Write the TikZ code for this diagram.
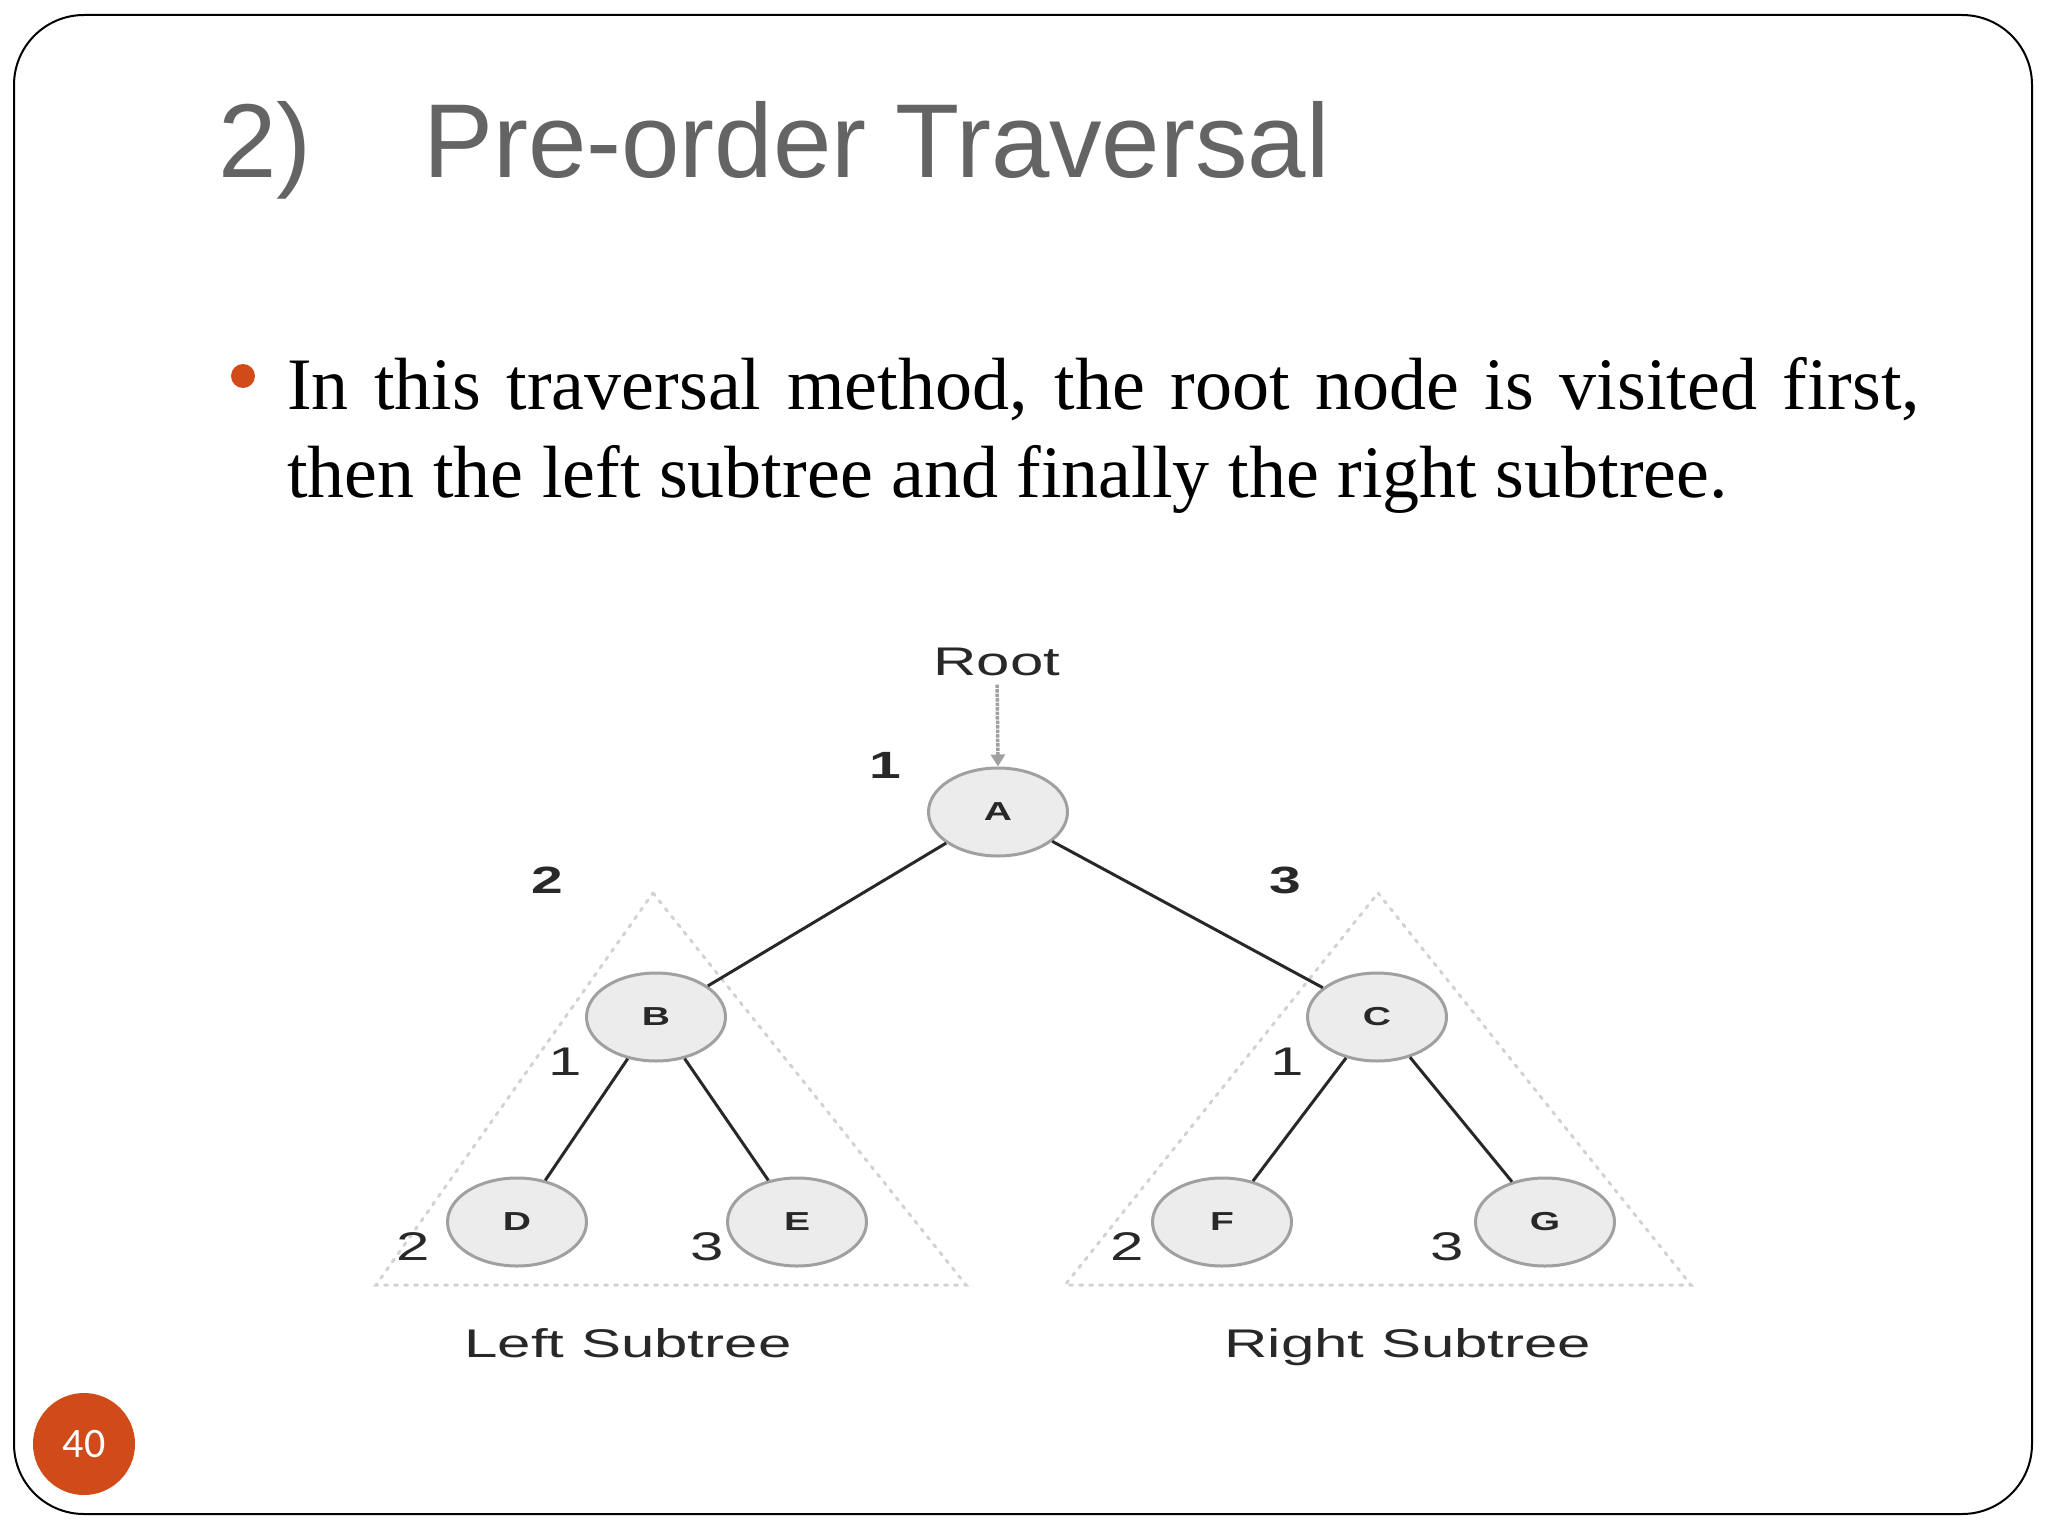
\documentclass[tikz,border=0pt]{standalone}
\usepackage{fontspec}
\setmainfont{Liberation Serif}
\newfontfamily\titlefont{Liberation Sans}
\newfontfamily\diagfont[FakeStretch=1.5]{Liberation Sans}
\newfontfamily\numfont{Carlito}
\usetikzlibrary{shapes.geometric,arrows.meta}
\definecolor{accent}{RGB}{208,74,26}
\definecolor{titlegray}{RGB}{100,100,100}
\definecolor{nodefill}{RGB}{236,236,236}
\definecolor{nodeline}{RGB}{160,160,160}
\definecolor{trigray}{RGB}{210,210,210}
\definecolor{inkdark}{RGB}{40,40,40}
\begin{document}
\begin{tikzpicture}[x=1pt,y=-1pt,
  tnode/.style={ellipse, draw=nodeline, line width=3pt, fill=nodefill,
    minimum width=139pt, minimum height=88pt, inner sep=0pt,
    text=inkdark, font=\diagfont\bfseries\fontsize{26}{28}\selectfont},
  edge/.style={draw=inkdark, line width=3pt},
  tri/.style={draw=trigray, line width=3pt, dash pattern=on 3pt off 7pt, line cap=round},
  boldnum/.style={inner sep=0pt, text=inkdark, font=\diagfont\bfseries\fontsize{38}{40}\selectfont},
  regnum/.style={inner sep=0pt, text=inkdark, font=\diagfont\fontsize{40}{42}\selectfont},
  caption/.style={inner sep=0pt, anchor=base, text=inkdark, font=\diagfont\fontsize{40}{42}\selectfont},
  rootarrow/.style={draw=nodeline, line width=3.5pt, densely dotted, -{Triangle[width=14pt,length=12pt]}}
]
\useasboundingbox (0,0) rectangle (2048,1536);
% slide border
\draw[line width=2pt, rounded corners=70pt] (14,15) rectangle (2032,1514);

% title
\node[anchor=base west, inner sep=0pt, text=titlegray, font=\titlefont\fontsize{105}{120}\selectfont] (num) at (218,178) {2)};
\node[anchor=base west, inner sep=0pt, text=titlegray, font=\titlefont\fontsize{105}{120}\selectfont] (title) at (423,178) {Pre-order Traversal};

% bullet text
\node[circle, fill=accent, minimum size=24pt, inner sep=0pt] (bul) at (243,376) {};
\node[anchor=base west, inner sep=0pt, font=\fontsize{74}{88}\selectfont] (line1) at (287,409)
  {\makebox[1633pt][s]{In this traversal method, the root node is visited first,}};
\node[anchor=base west, inner sep=0pt, font=\fontsize{74}{88}\selectfont] (line2) at (287,497)
  {then the left subtree and finally the right subtree.};

% subtree triangles
\draw[tri] (653,893) -- (966,1285) -- (376,1285) -- cycle;
\draw[tri] (1378,893) -- (1691,1285) -- (1065,1285) -- cycle;

% tree nodes
\node[tnode] (A) at (998,812) {A};
\node[tnode] (B) at (656,1017) {B};
\node[tnode] (C) at (1377,1017) {C};
\node[tnode] (D) at (517,1222) {D};
\node[tnode] (E) at (797,1222) {E};
\node[tnode] (F) at (1222,1222) {F};
\node[tnode] (G) at (1545,1222) {G};

\draw[edge] (A) -- (B);
\draw[edge] (A) -- (C);
\draw[edge] (B) -- (D);
\draw[edge] (B) -- (E);
\draw[edge] (C) -- (F);
\draw[edge] (C) -- (G);

% root label and arrow
\node[caption] (root) at (997,675) {Root};
\draw[rootarrow, shorten <=9pt] (root.south) -- (A.north);

% order numbers
\node[boldnum] (n1) at (885,765) {1};
\node[boldnum] (n2) at (547,880) {2};
\node[boldnum] (n3) at (1285,880) {3};
\node[regnum] (lb1) at (565,1062) {1};
\node[regnum] (lb2) at (413,1247) {2};
\node[regnum] (lb3) at (707,1247) {3};
\node[regnum] (rb1) at (1287,1062) {1};
\node[regnum] (rb2) at (1127,1247) {2};
\node[regnum] (rb3) at (1447,1247) {3};

% captions
\node[caption] (lsub) at (628,1357) {Left Subtree};
\node[caption] (rsub) at (1408,1357) {Right Subtree};

% page number
\node[circle, fill=accent, minimum size=102pt, inner sep=0pt, text=white,
  font=\numfont\fontsize{42}{48}\selectfont] (pg) at (84,1444) {40};
\end{tikzpicture}
\end{document}
